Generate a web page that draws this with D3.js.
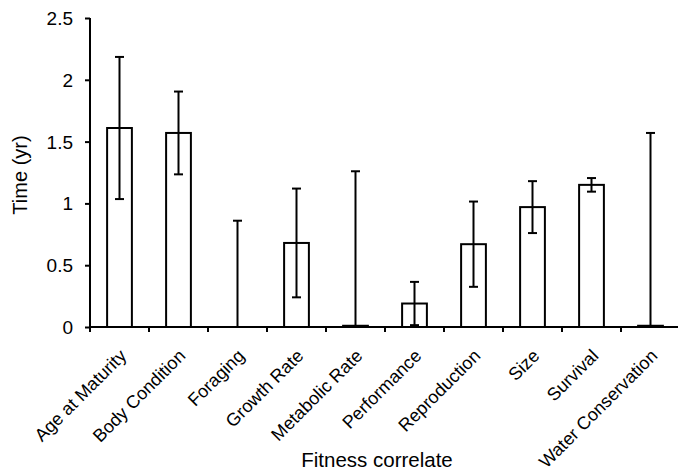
<!DOCTYPE html>
<html>
<head>
<meta charset="utf-8">
<script src="https://d3js.org/d3.v7.min.js"></script>
<style>
  body { margin: 0; background: #fff; }
  text { font-family: "Liberation Sans", Arial, sans-serif; fill: #000; }
</style>
</head>
<body>
<div id="chart"></div>
<script>
// data
var categories = ["Age at Maturity", "Body Condition", "Foraging", "Growth Rate", "Metabolic Rate",
                  "Performance", "Reproduction", "Size", "Survival", "Water Conservation"];
var means  = [1.61, 1.57, 0, 0.68, 0.01, 0.19, 0.67, 0.97, 1.15, 0.01];
var errors = [0.575, 0.335, 0.86, 0.44, 1.25, 0.175, 0.345, 0.21, 0.055, 1.56];
var yTicks = [0, 0.5, 1, 1.5, 2, 2.5];

var W = 678, H = 473;
var plotLeft = 90, plotTop = 18, plotBottom = 327, plotRight = 680;

var svg = d3.select("#chart")
  .append("svg")
    .attr("width", W)
    .attr("height", H);

var data = categories.map(function (c, i) {
  return {name: c, mean: means[i], err: errors[i]};
});

// scales
var x = d3.scaleBand()
  .domain(categories)
  .range([plotLeft, plotRight])
  .padding(0);

var y = d3.scaleLinear()
  .domain([0, 2.5])
  .range([plotBottom, plotTop]);

var bw = x.bandwidth() * 0.42;
var cx = function (d) { return x(d.name) + x.bandwidth() / 2; };

// bars (zero bars not drawn)
svg.append("g")
  .selectAll("rect")
  .data(data.filter(function (d) { return d.mean > 0; }))
  .enter()
  .append("rect")
    .attr("x", function (d) { return cx(d) - bw / 2; })
    .attr("y", function (d) { return y(d.mean); })
    .attr("width", bw)
    .attr("height", function (d) { return y(0) - y(d.mean); })
    .attr("fill", "#fff")
    .attr("stroke", "#000")
    .attr("stroke-width", 2);

// error bars
var eb = svg.append("g").attr("stroke", "#000").attr("stroke-width", 2);
var capW = 9;
data.forEach(function (d) {
  var hi = d.mean + d.err, lo = Math.max(0, d.mean - d.err);
  eb.append("line")
    .attr("x1", cx(d)).attr("x2", cx(d))
    .attr("y1", y(hi)).attr("y2", y(lo));
  eb.append("line")
    .attr("x1", cx(d) - capW / 2).attr("x2", cx(d) + capW / 2)
    .attr("y1", y(hi)).attr("y2", y(hi));
  if (d.mean - d.err > 0) {
    eb.append("line")
      .attr("x1", cx(d) - capW / 2).attr("x2", cx(d) + capW / 2)
      .attr("y1", y(lo)).attr("y2", y(lo));
  }
});

// y axis
var yAxis = svg.append("g")
  .attr("transform", "translate(" + plotLeft + ",0)")
  .call(d3.axisLeft(y).tickValues(yTicks).tickSize(5).tickPadding(12)
    .tickFormat(function (d) { return String(d); }));
yAxis.select(".domain").attr("stroke-width", 2).attr("d", "M0," + plotTop + "V" + plotBottom);
yAxis.selectAll(".tick line").attr("stroke-width", 2);
yAxis.selectAll("text").style("font-size", "19px").attr("dy", "0.34em");

// x axis: ticks at the band edges, labels rotated
var xAxis = svg.append("g")
  .attr("transform", "translate(0," + plotBottom + ")");
xAxis.append("line")
  .attr("x1", plotLeft).attr("x2", plotRight)
  .attr("stroke", "#000").attr("stroke-width", 2);
var edges = categories.map(function (c) { return x(c); }).concat([plotRight]);
xAxis.selectAll(".edge")
  .data(edges)
  .enter()
  .append("line")
    .attr("class", "edge")
    .attr("x1", function (d) { return d; })
    .attr("x2", function (d) { return d; })
    .attr("y1", 0).attr("y2", 5)
    .attr("stroke", "#000").attr("stroke-width", 2);
xAxis.selectAll(".lbl")
  .data(categories)
  .enter()
  .append("text")
    .attr("class", "lbl")
    .attr("transform", function (d) {
      return "translate(" + (x(d) + x.bandwidth() / 2 + 8) + ",30) rotate(-45)";
    })
    .style("text-anchor", "end")
    .style("font-size", "18px")
    .text(function (d) { return d; });

// axis titles
svg.append("text")
  .attr("transform", "translate(27,175) rotate(-90)")
  .style("text-anchor", "middle")
  .style("font-size", "20px")
  .text("Time (yr)");

svg.append("text")
  .attr("x", 377)
  .attr("y", 467)
  .style("text-anchor", "middle")
  .style("font-size", "20.5px")
  .text("Fitness correlate");
</script>
</body>
</html>
